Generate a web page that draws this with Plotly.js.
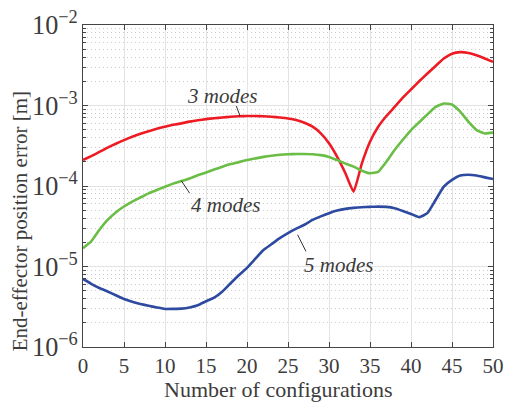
<!DOCTYPE html>
<html>
<head>
<meta charset="utf-8">
<script src="https://cdn.plot.ly/plotly-3.0.1.min.js"></script>
<style>html,body{margin:0;padding:0;background:#fff;}#chart{width:509px;height:403px;}</style>
</head>
<body>
<div id="chart"></div>
<script>
const configurations = [0,1,2,3,4,5,6,7,8,9,10,11,12,13,14,15,16,17,18,19,20,21,22,23,24,25,26,27,28,29,30,31,32,33,34,35,36,37,38,39,40,41,42,43,44,45,46,47,48,49,50];

const modes3 = [2.1e-4,2.35e-4,2.65e-4,3.0e-4,3.35e-4,3.72e-4,4.1e-4,4.45e-4,4.8e-4,5.15e-4,
  5.45e-4,5.75e-4,6.0e-4,6.3e-4,6.55e-4,6.78e-4,6.95e-4,7.1e-4,7.25e-4,7.35e-4,
  7.4e-4,7.4e-4,7.35e-4,7.25e-4,7.1e-4,6.9e-4,6.6e-4,6.1e-4,5.45e-4,4.5e-4,
  3.39e-4,2.3e-4,1.44e-4,8.5e-5,1.9e-4,3.55e-4,5.45e-4,7.4e-4,9.6e-4,1.25e-3,
  1.58e-3,2.0e-3,2.5e-3,3.1e-3,3.83e-3,4.4e-3,4.6e-3,4.5e-3,4.2e-3,3.83e-3,3.48e-3];

const modes4 = [1.69e-5,2.05e-5,2.86e-5,3.8e-5,4.7e-5,5.56e-5,6.4e-5,7.2e-5,8.1e-5,8.9e-5,
  9.8e-5,1.07e-4,1.15e-4,1.24e-4,1.36e-4,1.47e-4,1.6e-4,1.74e-4,1.87e-4,1.98e-4,
  2.1e-4,2.2e-4,2.3e-4,2.38e-4,2.44e-4,2.48e-4,2.5e-4,2.5e-4,2.48e-4,2.42e-4,
  2.3e-4,2.1e-4,1.9e-4,1.74e-4,1.55e-4,1.44e-4,1.5e-4,2.0e-4,2.8e-4,3.75e-4,
  4.95e-4,6.2e-4,7.76e-4,9.6e-4,1.06e-3,1.03e-3,8.4e-4,6.3e-4,4.95e-4,4.5e-4,4.6e-4];

const modes5 = [7.0e-6,6.1e-6,5.4e-6,4.9e-6,4.4e-6,3.95e-6,3.65e-6,3.43e-6,3.25e-6,3.1e-6,
  2.97e-6,2.98e-6,3.0e-6,3.1e-6,3.3e-6,3.7e-6,4.1e-6,4.9e-6,6.2e-6,7.8e-6,
  9.6e-6,1.24e-5,1.6e-5,1.9e-5,2.25e-5,2.6e-5,2.95e-5,3.3e-5,3.8e-5,4.2e-5,
  4.6e-5,4.95e-5,5.2e-5,5.35e-5,5.45e-5,5.5e-5,5.55e-5,5.5e-5,5.3e-5,4.9e-5,
  4.5e-5,4.1e-5,4.6e-5,6.7e-5,9.8e-5,1.19e-4,1.35e-4,1.38e-4,1.35e-4,1.28e-4,1.22e-4];

const seriesNames = ["3 modes","4 modes","5 modes"];
const xTicks = [0,5,10,15,20,25,30,35,40,45,50];
const xTitle = "Number of configurations";
const yTitle = "End-effector position error [m]";

// label placement: [text x, text y (value), leader start x, leader start y, leader end x, leader end y]
const labelPos = [
  [16.9, 1.30e-3, 18.7, 9.84e-4, 19.15, 7.40e-4],
  [17.4, 5.83e-5, 12.0, 1.16e-4, 13.0, 8.15e-5],
  [31.2, 1.05e-5, 26.17, 2.48e-5, 27.19, 1.54e-5]
];

const colors = ["rgb(237,28,36)","rgb(106,189,69)","rgb(46,74,160)"];
const font = "Times New Roman, Liberation Serif, DejaVu Serif, serif";
const txt = "#3c3c3c";

const traces = [modes3, modes4, modes5].map((ys, i) => ({
  x: configurations, y: ys, type: "scatter", mode: "lines", name: seriesNames[i],
  line: {color: colors[i], width: 2.6, shape: "spline", smoothing: 0.4}, hoverinfo: "skip"
}));

const annotations = seriesNames.map((n, i) => ({
  x: labelPos[i][0], y: Math.log10(labelPos[i][1]), xref: "x", yref: "y",
  text: n, showarrow: false, font: {family: font, size: 21, color: txt, style: "italic"}
}));
annotations.push({
  xref: "paper", yref: "paper", x: (278 - 83) / 410, y: -0.131, yanchor: "middle", xanchor: "center",
  text: xTitle, showarrow: false, font: {family: font, size: 22, color: txt}
});
annotations.push({
  xref: "paper", yref: "paper", x: -0.153, y: (347 - 221) / 322, xanchor: "center", yanchor: "middle",
  text: yTitle, textangle: -90, showarrow: false, font: {family: font, size: 21, color: txt}
});

const shapes = labelPos.map(p => ({
  type: "line", xref: "x", yref: "y",
  x0: p[2], y0: p[3], x1: p[4], y1: p[5],
  line: {color: "#333", width: 1}
}));

const layout = {
  width: 509, height: 403,
  margin: {l: 83, r: 16, t: 25, b: 56},
  paper_bgcolor: "#fff", plot_bgcolor: "#fff",
  showlegend: false,
  font: {family: font, size: 21, color: txt},
  xaxis: {
    range: [0, 50], tickvals: xTicks, ticks: "inside", ticklen: 5, tickcolor: "#444",
    showline: true, linecolor: "#444", linewidth: 1, mirror: "allticks",
    showgrid: true, gridcolor: "#e3e3e3", gridwidth: 1, zeroline: false,
    tickfont: {family: font, size: 21, color: txt}
  },
  yaxis: {
    type: "log", range: [-6, -2], dtick: 1, exponentformat: "power",
    ticks: "inside", ticklen: 5, tickcolor: "#444",
    showline: true, linecolor: "#444", linewidth: 1, mirror: "allticks",
    showgrid: true, gridcolor: "#e3e3e3", gridwidth: 1, zeroline: false,
    tickfont: {family: font, size: 21, color: txt},
    minor: {dtick: "D1", ticks: "inside", ticklen: 3, tickcolor: "#444", showgrid: true, gridcolor: "#cccccc", griddash: "1px,3px", gridwidth: 1}
  },
  annotations: annotations,
  shapes: shapes
};

Plotly.newPlot("chart", traces, layout, {staticPlot: true, displayModeBar: false});
</script>
</body>
</html>
